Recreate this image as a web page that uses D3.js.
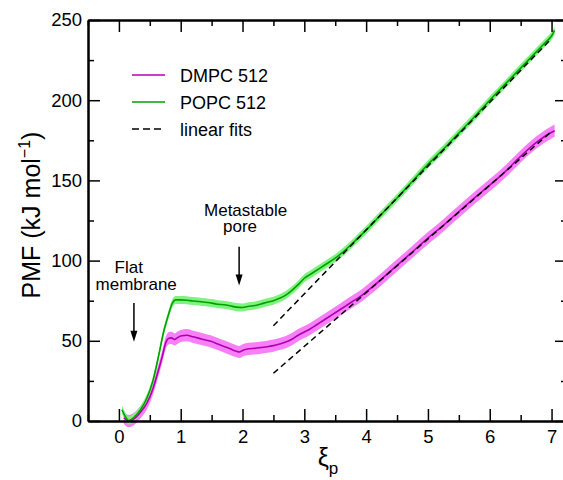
<!DOCTYPE html>
<html>
<head>
<meta charset="utf-8">
<script src="https://cdn.jsdelivr.net/npm/d3@7"></script>
<style>
  body { margin: 0; background: #fff; }
  svg { font-family: "Liberation Sans", Arial, sans-serif; }
</style>
</head>
<body>
<div id="chart"></div>
<script>
// PMF profiles
const popcX = [0.05, 0.1, 0.16, 0.25, 0.35, 0.45, 0.55, 0.65, 0.72, 0.8, 0.86, 0.92, 1.0, 1.1, 1.2, 1.3, 1.4, 1.5, 1.6, 1.7, 1.8, 1.9, 2.0, 2.1, 2.2, 2.3, 2.4, 2.5, 2.6, 2.7, 2.8, 2.9, 3.0, 3.1, 3.2, 3.3, 3.4, 3.5, 3.6, 3.8, 4.0, 4.25, 4.5, 4.75, 5.0, 5.25, 5.5, 5.75, 6.0, 6.25, 6.5, 6.75, 6.9, 7.0, 7.05];
const popcY = [7, 3, 0.3, 2.5, 7, 14, 25, 42, 55, 66, 73, 75.5, 75.5, 75.3, 74.8, 74.5, 74, 73.5, 72.8, 72.5, 71.8, 71, 70.8, 71.5, 72, 73, 74, 75, 76.5, 78.5, 81.5, 85, 89, 91.5, 94, 96.5, 99, 101.5, 104.5, 111.5, 119, 129, 139, 149.5, 160, 169.5, 179.5, 189.5, 200, 210, 220, 230, 236, 240, 243.5];

const dmpcX = [0.08, 0.16, 0.25, 0.35, 0.45, 0.55, 0.62, 0.7, 0.76, 0.8, 0.85, 0.9, 0.95, 1.0, 1.1, 1.2, 1.3, 1.4, 1.5, 1.6, 1.7, 1.8, 1.9, 1.95, 2.0, 2.1, 2.2, 2.3, 2.4, 2.5, 2.6, 2.7, 2.8, 2.9, 3.0, 3.1, 3.2, 3.3, 3.4, 3.5, 3.6, 3.7, 3.8, 3.9, 4.0, 4.25, 4.5, 4.75, 5.0, 5.25, 5.5, 5.75, 6.0, 6.25, 6.5, 6.75, 7.0, 7.05];
const dmpcY = [2, 0, 1.5, 5.5, 11, 20, 29, 40, 49, 51.5, 51.8, 50.8, 52, 53, 53.5, 52.5, 51.5, 50.5, 49.5, 48, 46.5, 45, 43.5, 43, 44, 45, 45.3, 45.8, 46.3, 47, 48, 49.2, 51, 53.5, 55.5, 57.5, 60, 62.5, 65, 67.5, 70, 72.5, 75, 77.5, 80.5, 88.5, 97, 105.5, 114, 122, 130.5, 139, 147, 155.5, 165, 173.5, 180, 181];

// error band half-widths (kJ/mol)
const popcErr = 2.5;
const dmpcErr = 3.8;

// linear fits: [slope, intercept] over fitRange
const fitRange = [2.5, 7.0];
const popcFit = [39.8, -40.1];
const dmpcFit = [33.5, -54];

const xTicks = [0, 1, 2, 3, 4, 5, 6, 7];
const xMinor = [-0.5, 0.5, 1.5, 2.5, 3.5, 4.5, 5.5, 6.5];
const yTicks = [0, 50, 100, 150, 200, 250];
const yMinor = [25, 75, 125, 175, 225];

const seriesNames = ["DMPC 512", "POPC 512", "linear fits"];

const w = 563, h = 480;
const m = { left: 88, right: 567, top: 20, bottom: 421 };

const svg = d3.select("#chart").append("svg")
  .attr("width", w)
  .attr("height", h);

const x = d3.scaleLinear().domain([-0.5, 7.25]).range([m.left, m.right]);
const y = d3.scaleLinear().domain([0, 250]).range([m.bottom, m.top]);

const popc = popcX.map((d, i) => [d, popcY[i]]);
const dmpc = dmpcX.map((d, i) => [d, dmpcY[i]]);

const area = err => d3.area()
  .x(d => x(d[0]))
  .y0(d => y(d[1] - err))
  .y1(d => y(d[1] + err))
  .curve(d3.curveMonotoneX);

const line = d3.line()
  .x(d => x(d[0]))
  .y(d => y(d[1]))
  .curve(d3.curveMonotoneX);

// bands
svg.append("path").datum(dmpc).attr("d", area(dmpcErr)).attr("fill", "#f77ff7");
svg.append("path").datum(popc).attr("d", area(popcErr)).attr("fill", "#80f280");

// curves
svg.append("path").datum(dmpc).attr("d", line).attr("fill", "none")
  .attr("stroke", "#b000b0").attr("stroke-width", 1.6);
svg.append("path").datum(popc).attr("d", line).attr("fill", "none")
  .attr("stroke", "#00a000").attr("stroke-width", 1.6);

// linear fits
[popcFit, dmpcFit].forEach(function (f) {
  const pts = fitRange.map(v => [v, f[0] * v + f[1]]);
  svg.append("path").datum(pts).attr("d", d3.line().x(d => x(d[0])).y(d => y(d[1])))
    .attr("stroke", "#000").attr("stroke-width", 1.5)
    .attr("stroke-dasharray", "6,4").attr("fill", "none");
});

// axes, ticks pointing inward
function styleAxis(g) {
  g.selectAll(".domain").attr("stroke-width", 2);
  g.selectAll(".tick line").attr("stroke-width", 1.5);
  g.selectAll("text").attr("font-size", 18.5).attr("fill", "#000")
    .attr("font-family", "Liberation Sans, Arial, sans-serif");
}

svg.append("g").attr("transform", "translate(0," + m.bottom + ")")
  .call(d3.axisBottom(x).tickValues(xMinor).tickSize(-6).tickSizeOuter(0).tickFormat(""))
  .call(styleAxis);
svg.append("g").attr("transform", "translate(0," + m.bottom + ")")
  .call(d3.axisBottom(x).tickValues(xTicks).tickSize(-12).tickSizeOuter(0).tickPadding(9).tickFormat(d3.format("d")))
  .call(styleAxis);
svg.append("g").attr("transform", "translate(0," + m.top + ")")
  .call(d3.axisTop(x).tickValues(xMinor).tickSize(-6).tickSizeOuter(0).tickFormat(""))
  .call(styleAxis);
svg.append("g").attr("transform", "translate(0," + m.top + ")")
  .call(d3.axisTop(x).tickValues(xTicks).tickSize(-12).tickSizeOuter(0).tickFormat(""))
  .call(styleAxis);

svg.append("g").attr("transform", "translate(" + m.left + ",0)")
  .call(d3.axisLeft(y).tickValues(yMinor).tickSize(-6).tickSizeOuter(0).tickFormat(""))
  .call(styleAxis);
svg.append("g").attr("transform", "translate(" + m.left + ",0)")
  .call(d3.axisLeft(y).tickValues(yTicks).tickSize(-12).tickSizeOuter(0).tickPadding(6).tickFormat(d3.format("d")))
  .call(styleAxis);
svg.append("g").attr("transform", "translate(" + m.right + ",0)")
  .call(d3.axisRight(y).tickValues(yMinor).tickSize(-6).tickSizeOuter(0).tickFormat(""))
  .call(styleAxis);
svg.append("g").attr("transform", "translate(" + m.right + ",0)")
  .call(d3.axisRight(y).tickValues(yTicks).tickSize(-12).tickSizeOuter(0).tickFormat(""))
  .call(styleAxis);

// axis titles
const yl = svg.append("text")
  .attr("transform", "translate(40,215) rotate(-90)")
  .attr("text-anchor", "middle")
  .attr("font-size", 25);
yl.append("tspan").text("PMF (kJ mol");
yl.append("tspan").attr("font-size", 16).attr("dy", -10).text("\u22121");
yl.append("tspan").attr("dy", 10).text(")");

const xl = svg.append("text")
  .attr("x", 328).attr("y", 466)
  .attr("text-anchor", "middle")
  .attr("font-size", 25);
xl.append("tspan").text("\u03BE");
xl.append("tspan").attr("font-size", 17).attr("dy", 8).text("p");

// legend
const legend = svg.append("g").attr("transform", "translate(132,75)");
const legColors = ["#b000b0", "#00a000", "#000"];
const legRows = [0, 27, 54];
seriesNames.forEach(function (name, i) {
  legend.append("line")
    .attr("x1", 0).attr("x2", 33)
    .attr("y1", legRows[i]).attr("y2", legRows[i])
    .attr("stroke", legColors[i]).attr("stroke-width", i === 2 ? 1.5 : 1.6)
    .attr("stroke-dasharray", i === 2 ? "7,4" : null);
  legend.append("text")
    .attr("x", 48).attr("y", legRows[i] + 6.5)
    .attr("font-size", 18)
    .text(name);
});

// annotations
function note(lines, arrow) {
  lines.forEach(function (l) {
    svg.append("text")
      .attr("x", x(l[1])).attr("y", y(l[2]))
      .attr("text-anchor", "middle")
      .attr("font-size", 17)
      .text(l[0]);
  });
  const ax = x(arrow[0]), y1 = y(arrow[1]), y2 = y(arrow[2]);
  svg.append("line").attr("x1", ax).attr("x2", ax).attr("y1", y1).attr("y2", y2 - 6)
    .attr("stroke", "#000").attr("stroke-width", 1.5);
  svg.append("path")
    .attr("d", "M" + ax + "," + y2 + "L" + (ax - 3.5) + "," + (y2 - 11) + "L" + (ax + 3.5) + "," + (y2 - 11) + "Z")
    .attr("fill", "#000");
}
note([["Flat", 0.16, 92.5], ["membrane", 0.28, 81.7]], [0.243, 73.6, 49.4]);
note([["Metastable", 2.05, 128], ["pore", 1.96, 118]], [1.945, 108.7, 84.4]);
</script>
</body>
</html>
